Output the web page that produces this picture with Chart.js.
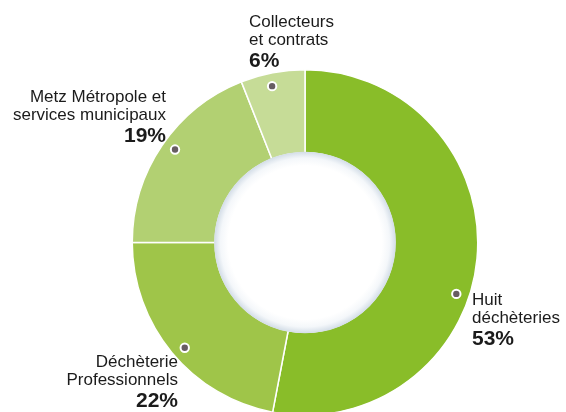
<!DOCTYPE html>
<html lang="fr">
<head>
<meta charset="UTF-8">
<title>Répartition</title>
<script src="https://cdn.jsdelivr.net/npm/chart.js@4"></script>
<style>
  html, body { margin: 0; padding: 0; background: #fff; }
  #wrap { position: relative; width: 566px; height: 412px; overflow: hidden; }
  #wrap canvas { position: absolute; left: 0; top: 0; }
  .lbl { position: absolute; font-family: "Liberation Sans", Arial, sans-serif; font-size: 17px; line-height: 17.5px; color: #1b1b1b; white-space: nowrap; }
  .lbl b { display: block; font-size: 21px; line-height: 23px; font-weight: bold; }
  .r { text-align: right; }
</style>
</head>
<body>
<div id="wrap">
  <canvas id="myChart" width="566" height="440"></canvas>
  <div class="lbl" style="left:249px; top:13px;">Collecteurs<br>et contrats<b>6%</b></div>
  <div class="lbl r" style="right:400px; top:88px;">Metz Métropole et<br>services municipaux<b>19%</b></div>
  <div class="lbl" style="left:472px; top:291px;">Huit<br>déchèteries<b>53%</b></div>
  <div class="lbl r" style="right:388px; top:353px;">Déchèterie<br>Professionnels<b>22%</b></div>
</div>

<script>
var categories = ['Huit déchèteries', 'Déchèterie Professionnels', 'Metz Métropole et services municipaux', 'Collecteurs et contrats'];
var shares = [53, 22, 19, 6];
var colours = ['#89bd29', '#9fc549', '#b2d072', '#c6dc97'];
// where the grey marker sits along each slice (0 = start, 1 = end)
var dotAt = [0.57, 0.48, 0.52, 0.45];

var holePlugin = {
    id: 'hole',
    afterDatasetsDraw: function(chart) {
        var ctx = chart.ctx;
        var arcs = chart.getDatasetMeta(0).data;
        var a0 = arcs[0];
        var cx = a0.x, cy = a0.y, rin = a0.innerRadius + 1;

        // soft bluish rim inside the hole
        var g = ctx.createRadialGradient(cx, cy, rin - 14, cx, cy, rin);
        g.addColorStop(0, '#ffffff');
        g.addColorStop(0.55, '#f4f7fa');
        g.addColorStop(1, '#d3dde7');
        ctx.save();
        ctx.beginPath();
        ctx.arc(cx, cy, rin, 0, Math.PI * 2);
        ctx.fillStyle = g;
        ctx.fill();

        // markers
        arcs.forEach(function(arc, i) {
            var ang = arc.startAngle + (arc.endAngle - arc.startAngle) * dotAt[i];
            var r = arc.outerRadius * 0.925;
            var x = arc.x + Math.cos(ang) * r;
            var y = arc.y + Math.sin(ang) * r;
            ctx.beginPath();
            ctx.arc(x, y, 4.2, 0, Math.PI * 2);
            ctx.fillStyle = '#675d62';
            ctx.fill();
            ctx.lineWidth = 2;
            ctx.strokeStyle = '#ffffff';
            ctx.stroke();
        });
        ctx.restore();
    }
};

var ctx = document.getElementById('myChart').getContext('2d');
var myChart = new Chart(ctx, {
    type: 'doughnut',
    data: {
        labels: categories,
        datasets: [{
            data: shares,
            backgroundColor: colours,
            borderColor: '#ffffff',
            borderWidth: 1.5
        }]
    },
    options: {
        responsive: false,
        animation: false,
        cutout: '52%',
        layout: { padding: { top: 69, bottom: 24, left: 131, right: 87 } },
        plugins: {
            legend: { display: false },
            tooltip: { enabled: false }
        }
    },
    plugins: [holePlugin]
});
</script>
</body>
</html>
